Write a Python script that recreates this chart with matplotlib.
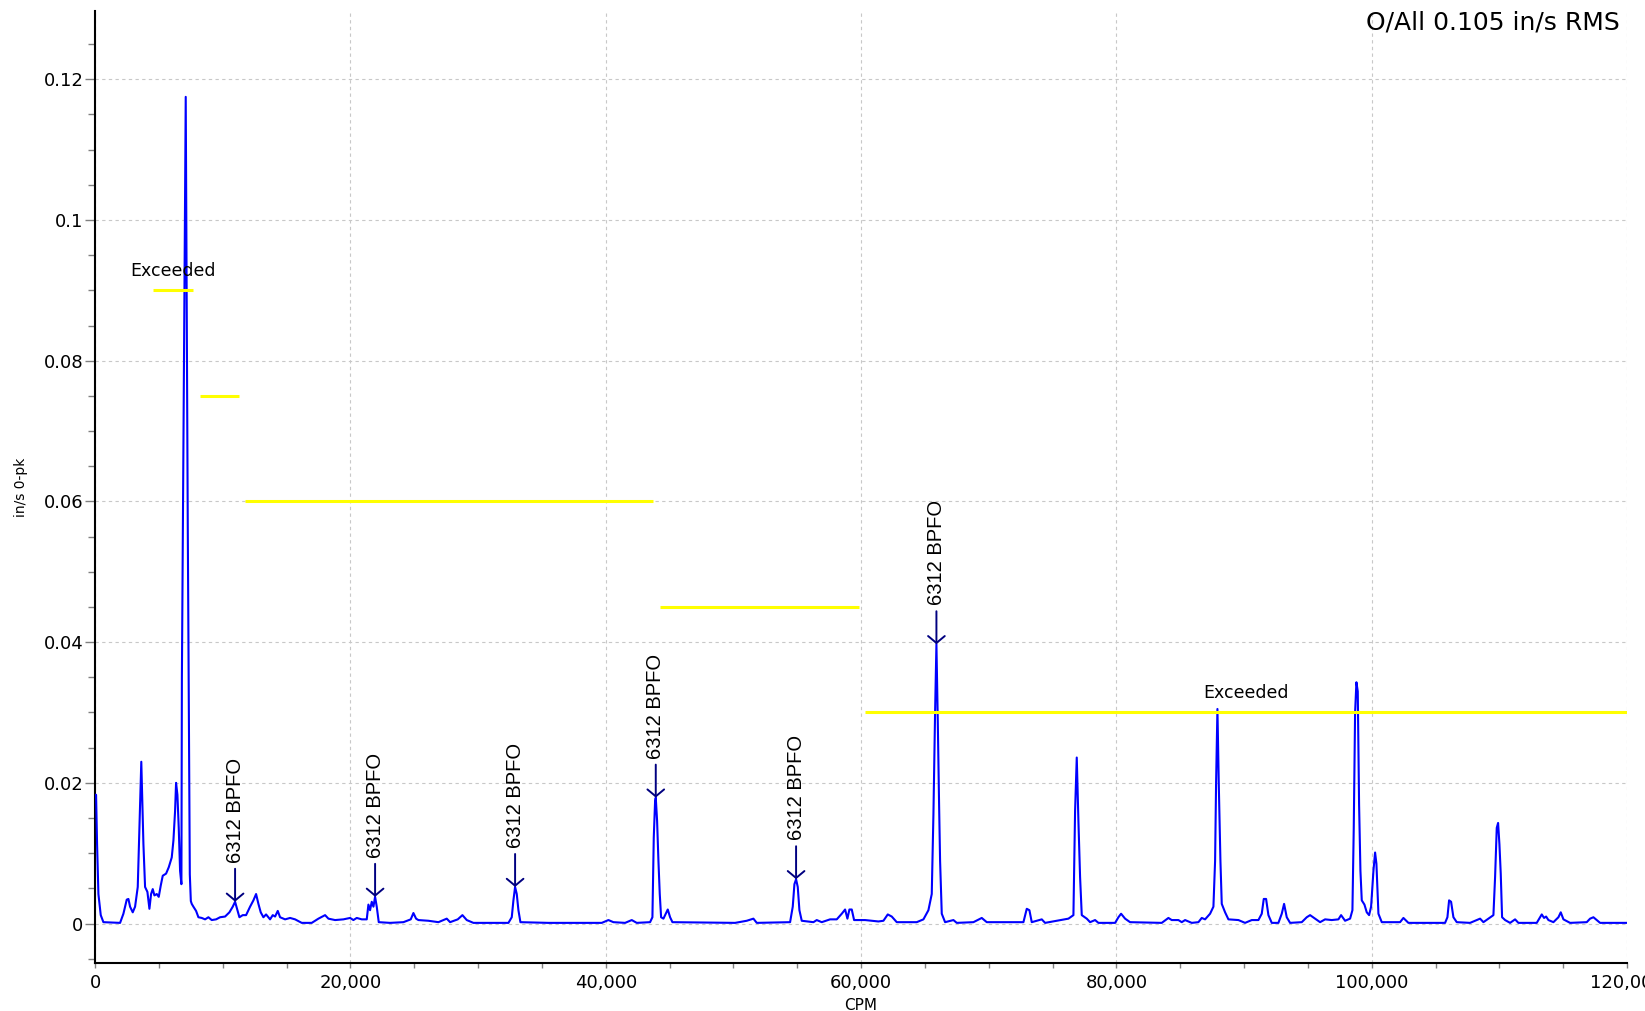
import matplotlib
matplotlib.use('Agg')
import matplotlib.pyplot as plt
from matplotlib.ticker import MultipleLocator, FuncFormatter

# spectrum trace (CPM, in/s 0-pk)
cpm = [0, 78, 156, 261, 444, 652, 1958, 2219, 2480, 2611, 2741, 2950, 3133, 3342, 3472, 3620,
       3786, 3916, 4099, 4256, 4386, 4517, 4647, 4830, 4987, 5143, 5300, 5561, 5770, 6005, 6136,
       6266, 6344, 6449, 6553, 6658, 6762,
       6800, 6900, 7000, 7100, 7180, 7260, 7340, 7420, 7500,
       7572, 7702, 7911, 8094, 8355, 8616, 8877, 9138, 9478, 9791, 10183, 10522, 10783, 10966,
       11149, 11305, 11566, 11827, 12141, 12402, 12611, 12794, 12976, 13185, 13394, 13707, 13917,
       14100, 14308, 14491, 14883, 15274, 15666, 16188, 16971, 17494, 18016, 18277, 18799, 19452,
       19974, 20235, 20496, 20888, 21279, 21410, 21540, 21671, 21802, 21933, 22063, 22220,
       23107, 24151, 24726, 24935, 25144, 25327, 26110, 26894, 27546, 27808, 28408, 28774, 29113,
       29635, 32377, 32638, 32768, 32899, 33030, 33160, 33317,
       35510, 39688, 40210, 40601, 41515, 42037, 42429, 43473, 43656, 43761, 43865, 43918, 44022,
       44127, 44231, 44336, 44519, 44702, 44858, 45041, 45224,
       50132, 51045, 51567, 51829, 54440, 54648, 54779, 54909, 55040, 55170, 55353, 56267, 56528,
       56920, 57573, 58095, 58487, 58748, 58930, 59087, 59270, 59453, 60315, 61359, 61751, 62090,
       62403, 62795, 64361, 64884, 65275, 65536, 65667, 65797, 65902, 66006, 66110, 66189, 66320,
       66581, 67234, 67495, 68800, 69453, 69845, 72717, 72978, 73186, 73369, 74153, 74414,
       76241, 76633, 76763, 76894, 77024, 77155, 77286, 77677, 77938, 78330, 78591, 79897, 80158,
       80366, 80680, 81071, 83552, 84074, 84335, 84857, 85119, 85380, 85902, 86424, 86685, 86946,
       87338, 87599, 87730, 87808, 87913, 88017, 88148, 88252, 88513, 88774, 89557, 90079, 90602,
       91124, 91385, 91542, 91725, 91907, 92168, 92690, 92952, 93134, 93343, 93604, 94518, 94910,
       95171, 95563, 95954, 96346, 96868, 97390, 97599, 97912, 98304, 98487, 98591, 98696, 98800,
       98905, 99009, 99114, 99219, 99428, 99610, 99793, 99950, 100133, 100263, 100367, 100524,
       100785, 102220, 102481, 102873, 105745, 105928, 106059, 106215, 106398, 106659, 107703,
       108226, 108487, 108748, 109139, 109531, 109662, 109792, 109897, 110001, 110105, 110210,
       110445, 110837, 111228, 111489, 112925, 113187, 113317, 113500, 113657, 113839, 114231,
       114623, 114806, 115015, 115537, 116842, 117103, 117364, 117625, 117886, 120000]
amp = [0.0183, 0.0183, 0.0113, 0.0042, 0.0012, 0.0002, 0.0001, 0.0014, 0.0034, 0.0035, 0.0024, 0.0016, 0.0024, 0.0052, 0.0136, 0.0230,
       0.0113, 0.0052, 0.0045, 0.0021, 0.0042, 0.0049, 0.0040, 0.0042, 0.0038, 0.0054, 0.0068, 0.0071, 0.0080, 0.0094, 0.0118,
       0.0160, 0.0200, 0.0183, 0.0136, 0.0075, 0.0056,
       0.0350, 0.0630, 0.0900, 0.1175, 0.0870, 0.0565, 0.0305, 0.0070, 0.0032,
       0.0028, 0.0024, 0.0018, 0.0009, 0.0008, 0.0006, 0.0009, 0.0005, 0.0006, 0.0009, 0.0010, 0.0016, 0.0024, 0.0031,
       0.0019, 0.0009, 0.0012, 0.0012, 0.0024, 0.0033, 0.0042, 0.0028, 0.0016, 0.0009, 0.0013, 0.0006, 0.0012,
       0.0010, 0.0018, 0.0009, 0.0006, 0.0008, 0.0006, 0.0001, 0.0001, 0.0007, 0.0012, 0.0007, 0.0005, 0.0006,
       0.0008, 0.0005, 0.0008, 0.0006, 0.0006, 0.0027, 0.0019, 0.0031, 0.0024, 0.0038, 0.0024, 0.0002,
       0.0001, 0.0002, 0.0006, 0.0015, 0.0007, 0.0005, 0.0004, 0.0002, 0.0007, 0.0002, 0.0006, 0.0012, 0.0005,
       0.0001, 0.0001, 0.0009, 0.0033, 0.0052, 0.0042, 0.0019, 0.0002,
       0.0001, 0.0001, 0.0005, 0.0002, 0.0001, 0.0005, 0.0001, 0.0002, 0.0009, 0.0122, 0.0174, 0.0179, 0.0146,
       0.0089, 0.0042, 0.0009, 0.0007, 0.0014, 0.0020, 0.0009, 0.0002,
       0.0001, 0.0004, 0.0007, 0.0001, 0.0002, 0.0024, 0.0056, 0.0063, 0.0052, 0.0019, 0.0004, 0.0002, 0.0005,
       0.0002, 0.0006, 0.0006, 0.0014, 0.0020, 0.0007, 0.0020, 0.0020, 0.0005, 0.0005, 0.0003, 0.0004, 0.0013,
       0.0010, 0.0002, 0.0002, 0.0006, 0.0019, 0.0042, 0.0155, 0.0300, 0.0397, 0.0290, 0.0170, 0.0089, 0.0014,
       0.0002, 0.0005, 0.0001, 0.0002, 0.0008, 0.0002, 0.0002, 0.0021, 0.0019, 0.0002, 0.0006, 0.0001,
       0.0007, 0.0012, 0.0160, 0.0236, 0.0146, 0.0066, 0.0012, 0.0007, 0.0002, 0.0005, 0.0001, 0.0001, 0.0009,
       0.0014, 0.0007, 0.0002, 0.0001, 0.0008, 0.0005, 0.0005, 0.0002, 0.0005, 0.0001, 0.0002, 0.0008, 0.0006,
       0.0014, 0.0024, 0.0089, 0.0200, 0.0305, 0.0200, 0.0089, 0.0028, 0.0016, 0.0006, 0.0005, 0.0001, 0.0005,
       0.0005, 0.0014, 0.0035, 0.0035, 0.0012, 0.0001, 0.0001, 0.0014, 0.0028, 0.0009, 0.0001, 0.0002, 0.0009,
       0.0012, 0.0007, 0.0002, 0.0006, 0.0005, 0.0006, 0.0012, 0.0004, 0.0007, 0.0019, 0.0136, 0.0300, 0.0343,
       0.0330, 0.0169, 0.0075, 0.0033, 0.0027, 0.0016, 0.0012, 0.0024, 0.0075, 0.0101, 0.0085, 0.0014,
       0.0002, 0.0002, 0.0008, 0.0001, 0.0001, 0.0009, 0.0033, 0.0031, 0.0009, 0.0002, 0.0001,
       0.0005, 0.0007, 0.0002, 0.0007, 0.0012, 0.0066, 0.0136, 0.0143, 0.0113, 0.0071, 0.0009,
       0.0005, 0.0001, 0.0006, 0.0001, 0.0001, 0.0009, 0.0013, 0.0008, 0.0010, 0.0005, 0.0002,
       0.0009, 0.0016, 0.0006, 0.0001, 0.0002, 0.0007, 0.0009, 0.0005, 0.0001, 0.0001]

# alarm bands (yellow)
band_start = [4570, 8220, 11750, 44250, 60300]
band_end = [7700, 11250, 43700, 59800, 120000]
band_level = [0.09, 0.075, 0.06, 0.045, 0.03]
exceeded = [0, 4]

# 6312 BPFO harmonics
bpfo_cpm = [10966, 21933, 32899, 43918, 54909, 65902]
bpfo_amp = [0.0031, 0.0038, 0.0052, 0.0179, 0.0063, 0.0397]
bpfo_label = '6312 BPFO'

overall = 'O/All 0.105 in/s RMS'

fig = plt.figure(figsize=(16.45, 10.11), dpi=100)
ax = fig.add_axes([0.0578, 0.0475, 0.9313, 0.9416])

ax.plot(cpm, amp, color='#0000ff', lw=1.5, zorder=3)

for x0, x1, lvl in zip(band_start, band_end, band_level):
    ax.hlines(lvl, x0, x1, color='#ffff00', lw=2.2, zorder=4)

for i in exceeded:
    mid = (band_start[i] + band_end[i]) / 2
    ax.annotate('Exceeded', xy=(mid, band_level[i]), xytext=(0, 10),
                textcoords='offset pixels', ha='center', va='bottom', fontsize=12.5)

for f, a in zip(bpfo_cpm, bpfo_amp):
    ax.annotate('', xy=(f, a), xytext=(0, 33), textcoords='offset pixels',
                arrowprops=dict(arrowstyle='->,head_length=0.5,head_width=0.6',
                                color='#000080', lw=1.4, shrinkA=0, shrinkB=0), zorder=5)
    ax.annotate(bpfo_label, xy=(f, a), xytext=(0, 39), textcoords='offset pixels',
                rotation=90, ha='center', va='bottom', fontsize=14.5,
                family='Liberation Sans')

ax.set_xlim(0, 120000)
ax.set_ylim(-0.0056, 0.1297)

ax.xaxis.set_major_locator(MultipleLocator(20000))
ax.xaxis.set_minor_locator(MultipleLocator(5000))
ax.yaxis.set_major_locator(MultipleLocator(0.02))
ax.yaxis.set_minor_locator(MultipleLocator(0.005))
ax.xaxis.set_major_formatter(FuncFormatter(lambda v, p: '{:,.0f}'.format(v)))
ax.yaxis.set_major_formatter(FuncFormatter(lambda v, p: '{:g}'.format(round(v, 4))))

ax.grid(True, which='major', color='#c8c8c8', linestyle=(0, (3, 3)), lw=0.8)
ax.set_axisbelow(True)

for s in ['top', 'right']:
    ax.spines[s].set_visible(False)
for s in ['left', 'bottom']:
    ax.spines[s].set_linewidth(1.5)
    ax.spines[s].set_color('black')

ax.tick_params(axis='both', which='both', color='#808080', labelsize=13, direction='out')
ax.tick_params(axis='x', which='both', length=3.6, width=1, pad=4)
ax.tick_params(axis='y', which='major', length=7, width=1, pad=1.5)
ax.tick_params(axis='y', which='minor', length=5, width=1)

ax.set_xlabel('CPM', fontsize=11)
ax.xaxis.set_label_coords(0.5, -0.037)
ax.set_ylabel('in/s 0-pk', fontsize=10)
ax.yaxis.set_label_coords(-0.0437, 0.5)

fig.text(1620 / 1645, 1 - 22 / 1011, overall, ha='right', va='center', fontsize=18)

fig.savefig('out.png', dpi=100)
